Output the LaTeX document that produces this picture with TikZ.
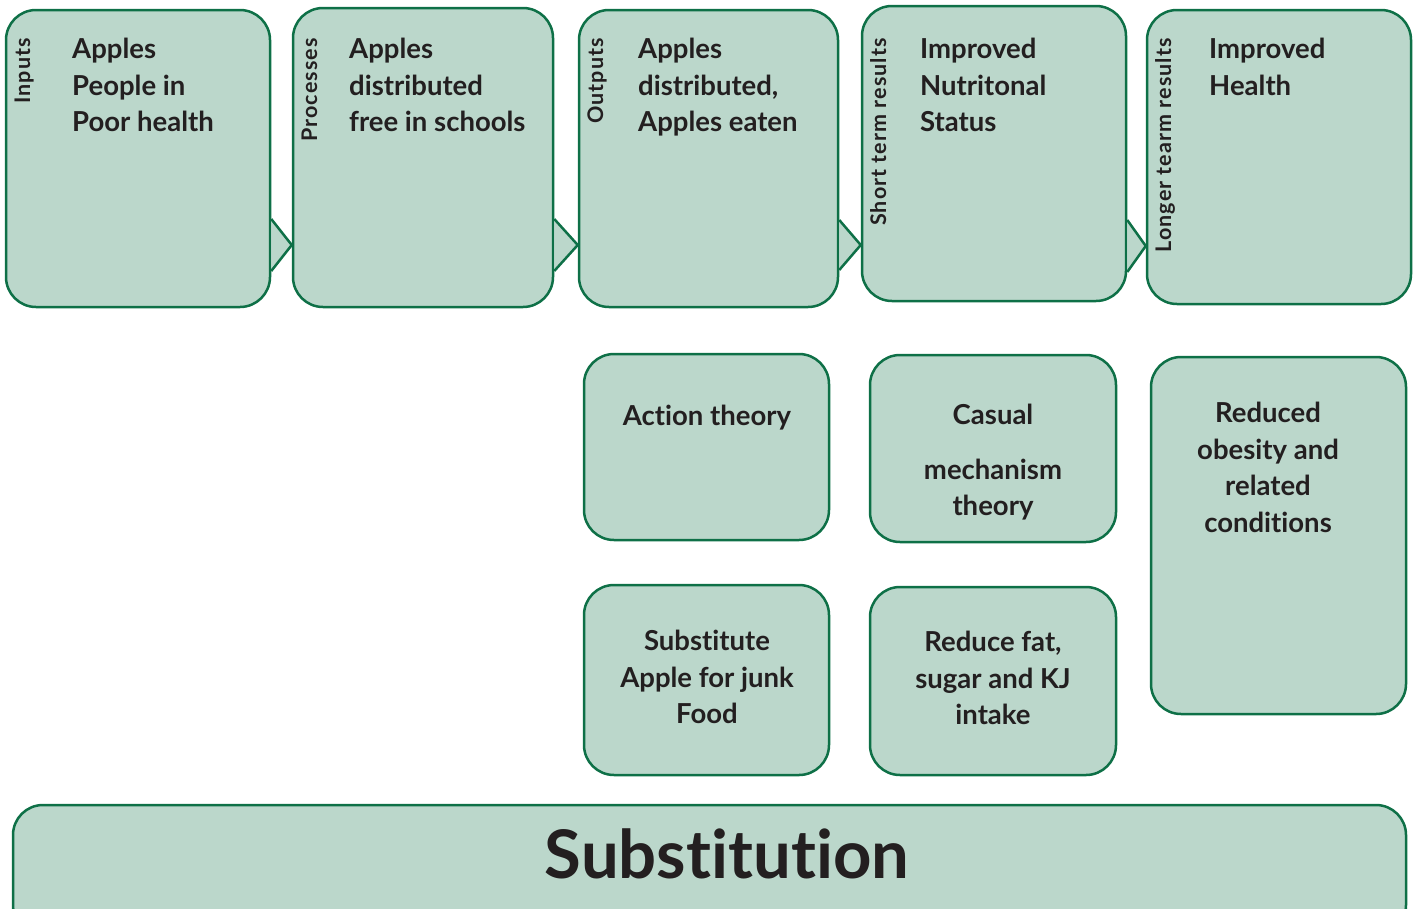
\documentclass[tikz,border=0pt]{standalone}
\usepackage{fontspec}
\setmainfont{Lato}[Ligatures=NoCommon]
\newfontfamily\labfont{Lato}[Ligatures=NoCommon, LetterSpace=5]
\definecolor{boxfill}{HTML}{BBD7CB}
\definecolor{boxline}{HTML}{0E7047}
\definecolor{textc}{HTML}{231F20}
\begin{document}
\begin{tikzpicture}[x=1pt,y=-1pt,
  box/.style={draw=boxline, fill=boxfill, line width=2.5pt, rounded corners=30pt, inner sep=0pt},
  tri/.style={draw=boxline, fill=boxfill, line width=2.5pt, line join=miter},
  txt/.style={anchor=north west, align=left, inner sep=0pt, text=textc, font=\fontsize{27.5}{36.5}\selectfont\bfseries},
  ctxt/.style={anchor=north, align=center, inner sep=0pt, text=textc, font=\fontsize{27.5}{36.5}\selectfont\bfseries},
  lab/.style={rotate=90, anchor=base east, inner sep=0pt, text=textc, font=\labfont\fontsize{21.5}{24}\selectfont\bfseries}
]
\useasboundingbox (0,0) rectangle (1419,908);
\clip (0,0) rectangle (1419,908);
% top row
\node[box, minimum width=264pt, minimum height=297pt] (b1) at (138,158.5) {};
\node[box, minimum width=260pt, minimum height=299pt] (b2) at (423,157.5) {};
\node[box, minimum width=259pt, minimum height=297pt] (b3) at (708.5,158.5) {};
\node[box, minimum width=264pt, minimum height=295pt] (b4) at (994,153.5) {};
\node[box, minimum width=264pt, minimum height=294pt] (b5) at (1279,157) {};
% connectors (triangles)
\draw[tri] (b1.east |- 0,219) -- (b2.west |- 0,245) -- (b1.east |- 0,271);
\draw[tri] (b2.east |- 0,219) -- (b3.west |- 0,245) -- (b2.east |- 0,271);
\draw[tri] (b3.east |- 0,220) -- (b4.west |- 0,245) -- (b3.east |- 0,270);
\draw[tri] (b4.east |- 0,220) -- (b5.west |- 0,246) -- (b4.east |- 0,272);
% labels
\node[lab] (l1) at (30,38) {Inputs};
\node[lab] (l2) at (317,38) {Processes};
\node[lab] (l3) at (603,38) {Outputs};
\node[lab] (l4) at (886,38) {Short term results};
\node[lab] (l5) at (1171,38) {Longer tearm results};
% texts
\node[txt] (t1) at (72,38) {Apples\\People in\\Poor health};
\node[txt] (t2) at (349,38) {Apples\\distributed\\free in schools};
\node[txt] (t3) at (638,38) {Apples\\distributed,\\Apples eaten};
\node[txt] (t4) at (920,38) {Improved\\Nutritonal\\Status};
\node[txt] (t5) at (1209,38) {Improved\\Health};
% lower boxes
\node[box, minimum width=245pt, minimum height=186pt] (act) at (706.5,447) {};
\node[box, minimum width=246pt, minimum height=187pt] (cas) at (993,448.5) {};
\node[box, minimum width=255pt, minimum height=357pt] (red) at (1278.5,535.5) {};
\node[box, minimum width=245pt, minimum height=190pt] (sub) at (706.5,680) {};
\node[box, minimum width=246pt, minimum height=188pt] (fat) at (993,681) {};
\node[ctxt] (tact) at (707,405) {Action theory};
\node[ctxt] (tcas) at (993,404) {Casual\\[18pt]mechanism\\theory};
\node[ctxt] (tred) at (1268,402) {Reduced\\obesity and\\related\\conditions};
\node[ctxt] (tsub) at (707,630) {Substitute\\Apple for junk\\Food};
\node[ctxt] (tfat) at (993,631) {Reduce fat,\\sugar and KJ\\intake};
% bottom bar
\node[box, minimum width=1393pt, minimum height=130pt] (bar) at (709.5,870) {};
\node[anchor=base, inner sep=0pt, text=textc, font=\fontsize{67}{80}\selectfont\bfseries] (tbar) at (727,878) {Substitution};
\end{tikzpicture}
\end{document}
